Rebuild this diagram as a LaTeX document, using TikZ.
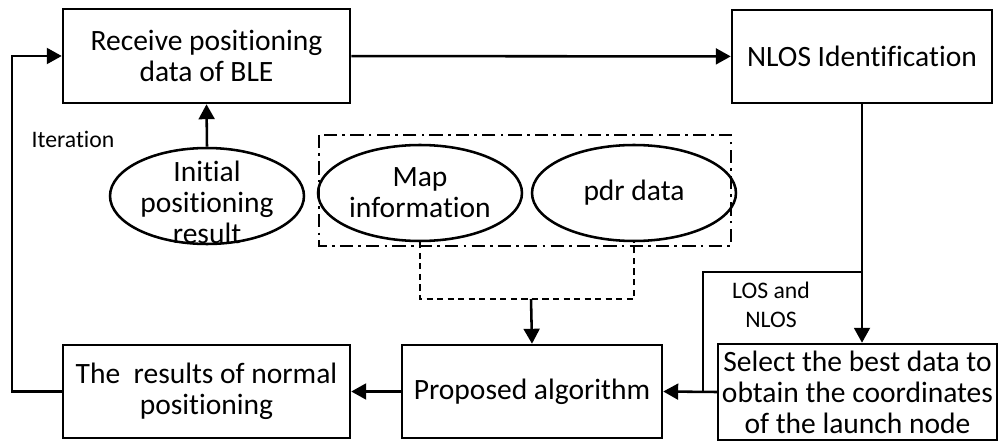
\documentclass[tikz,border=0pt]{standalone}
\usepackage{fontspec}
\setmainfont{Carlito}[Ligatures=NoCommon]
\usetikzlibrary{arrows.meta,shapes.geometric}
\begin{document}
\begin{tikzpicture}[x=0.02cm,y=-0.02cm,line width=1.45pt,>={Triangle[length=8.5pt,width=9pt]},
	box/.style={draw,rectangle,inner sep=0pt,align=center,font=\fontsize{16.8}{17.6}\selectfont},
	oval/.style={draw,ellipse,inner sep=0pt,minimum height=1.92cm},
	txt/.style={align=center,font=\fontsize{16.8}{17.6}\selectfont},
	small/.style={align=center,font=\fontsize{13.5}{16.4}\selectfont}]
	\useasboundingbox (0,0) rectangle (1000,442);
	\node[box,minimum width=5.74cm,minimum height=1.88cm] (recv) at (206.5,56) {Receive positioning\\data of BLE};
	\node[box,minimum width=5.2cm,minimum height=1.86cm] (nlos) at (862,56.5) {NLOS Identification};
	\node[box,minimum width=5.74cm,minimum height=1.86cm] (norm) at (206.5,391.5) {The~ results of normal\\positioning};
	\node[box,minimum width=5.2cm,minimum height=1.86cm] (prop) at (532,391.5) {Proposed algorithm};
	\node[box,minimum width=5.58cm,minimum height=1.92cm] (sel) at (857.5,392) {Select the best data to\\obtain the coordinates\\of the launch node};
	% inputs
	\node[oval,minimum width=3.88cm] (init) at (207,196) {};
	\node[txt,yshift=-0.12cm] at (init) {Initial\\positioning\\result};
	\draw[dash pattern=on 7.5pt off 3pt on 1.5pt off 3pt] (319,135) rectangle (731,246);
	\node[oval,minimum width=4.08cm] (map) at (420,193) {};
	\node[txt] at (map) {Map\\information};
	\node[oval,minimum width=4.08cm] (pdr) at (634,193) {};
	\node[txt] at (pdr) {pdr data};
	\node[small] (iter) at (73,139) {Iteration};
	\node[small] (los) at (771,305) {LOS and\\NLOS};
	\coordinate (loop) at (12,220);
	\coordinate (join) at (531,299);
	\coordinate (fork) at (862,272);
	\coordinate (bend) at (703,392);
	% flow
	\draw[->] (recv) -- (nlos);
	\draw[->] (init.north) -- (recv.south);
	\draw[dash pattern=on 3.5pt off 2.5pt,line width=1.3pt] (map.south) |- (join) -| (pdr.south);
	\draw[->] (join) -- (prop.north);
	\draw[->] (nlos.south) -- (nlos.south |- sel.north);
	\draw (fork) -| (bend);
	\draw[->] (sel.west) -- (prop.east);
	\draw[->] (prop) -- (norm);
	\draw[->] (norm.west) -- (norm.west -| loop) -- (recv.west -| loop) -- (recv.west);
\end{tikzpicture}
\end{document}
